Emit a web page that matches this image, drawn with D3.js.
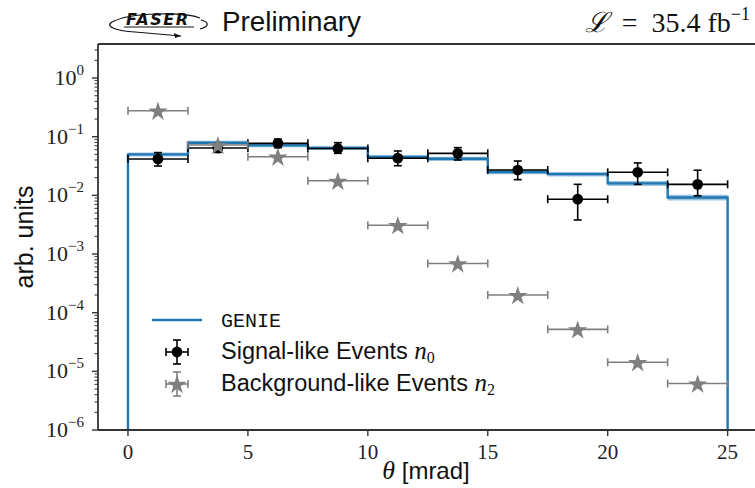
<!DOCTYPE html>
<html><head><meta charset="utf-8">
<script src="https://cdn.jsdelivr.net/npm/d3@7"></script>
<style>body{margin:0;background:#fff}svg{display:block}</style>
</head><body>
<svg id="c" width="755" height="488"></svg>
<script>
// ---- data ----
const binEdges = [0, 2.5, 5, 7.5, 10, 12.5, 15, 17.5, 20, 22.5, 25];
const thetaCenters = [1.25, 3.75, 6.25, 8.75, 11.25, 13.75, 16.25, 18.75, 21.25, 23.75];
const thetaHalfWidth = [1.25, 1.25, 1.25, 1.25, 1.25, 1.25, 1.25, 1.25, 1.25, 1.25];
const genie = [0.050, 0.079, 0.071, 0.064, 0.045, 0.042, 0.025, 0.023, 0.016, 0.0092];
const genieBandLo = [0.046, 0.073, 0.066, 0.059, 0.0415, 0.0385, 0.0228, 0.021, 0.0145, 0.0082];
const genieBandHi = [0.054, 0.085, 0.076, 0.069, 0.0485, 0.0455, 0.0272, 0.025, 0.0175, 0.0102];
const signal = [0.0416, 0.064, 0.077, 0.063, 0.043, 0.052, 0.027, 0.0086, 0.0247, 0.0154];
const signalErrLo = [0.010, 0.010, 0.012, 0.011, 0.011, 0.012, 0.0085, 0.0048, 0.0093, 0.0056];
const signalErrHi = [0.012, 0.012, 0.014, 0.016, 0.014, 0.013, 0.0115, 0.0068, 0.011, 0.0114];
const background = [0.277, 0.072, 0.0455, 0.0177, 0.0031, 0.00069, 0.0002, 0.000052, 0.0000143, 0.0000062];
const backgroundErr = [0.004, 0.0015, 0.001, 0.0004, 0.00008, 0.00002, 0.000007, 0.000002, 0.0000006, 0.0000003];
const xTicks = [0, 5, 10, 15, 20, 25];
const yTickExps = [0, -1, -2, -3, -4, -5, -6];
const legendLabels = ["GENIE", "Signal-like Events ", "Background-like Events "];

// ---- layout ----
const svg = d3.select("#c");
const L = 98, T = 44, B = 430, R = 757.6;
const x = d3.scaleLinear().domain([-1.25, 26.25]).range([L, R]);
const y = d3.scaleLog().domain([1e-6, 3.8]).range([B, T]);
const blue = "#1f77b4", grey = "#7f7f7f";
const serif = "'Liberation Serif','DejaVu Serif',serif";
const sans = "'Liberation Sans',Arial,sans-serif";

// GENIE band
const bandArea = d3.area().curve(d3.curveStepAfter)
  .x(d => x(d[0])).y0(d => y(d[1])).y1(d => y(d[2]));
const bandPts = binEdges.map((e, i) => [e, genieBandLo[Math.min(i, 9)], genieBandHi[Math.min(i, 9)]]);
svg.append("path").attr("d", bandArea(bandPts)).attr("fill", blue).attr("opacity", 0.45);
// GENIE step line: vertical at 0, steps, vertical at 25
let pts = [[0, 1e-6]];
for (let i = 0; i < 10; i++) { pts.push([binEdges[i], genie[i]]); pts.push([binEdges[i + 1], genie[i]]); }
pts.push([25, 1e-6]);
svg.append("path").attr("d", d3.line().x(d => x(d[0])).y(d => y(d[1]))(pts))
  .attr("fill", "none").attr("stroke", blue).attr("stroke-width", 2.4);

// error bar helper
function errbar(g, cx, cy, x0, x1, y0, y1, col, cap) {
  g.append("line").attr("x1", x0).attr("x2", x1).attr("y1", cy).attr("y2", cy).attr("stroke", col).attr("stroke-width", 1.6);
  g.append("line").attr("x1", cx).attr("x2", cx).attr("y1", y0).attr("y2", y1).attr("stroke", col).attr("stroke-width", 1.6);
  [x0, x1].forEach(xx => g.append("line").attr("x1", xx).attr("x2", xx).attr("y1", cy - cap).attr("y2", cy + cap).attr("stroke", col).attr("stroke-width", 1.6));
  [y0, y1].forEach(yy => g.append("line").attr("x1", cx - cap).attr("x2", cx + cap).attr("y1", yy).attr("y2", yy).attr("stroke", col).attr("stroke-width", 1.6));
}

// Signal
const gs = svg.append("g");
thetaCenters.forEach((c, i) => {
  errbar(gs, x(c), y(signal[i]), x(c - thetaHalfWidth[i]), x(c + thetaHalfWidth[i]),
    y(signal[i] + signalErrHi[i]), y(signal[i] - signalErrLo[i]), "#000", 4);
  gs.append("circle").attr("cx", x(c)).attr("cy", y(signal[i])).attr("r", 5.4).attr("fill", "#000");
});
// Background
const gb = svg.append("g");
const star = d3.symbol().type(d3.symbolStar).size(115);
thetaCenters.forEach((c, i) => {
  errbar(gb, x(c), y(background[i]), x(c - thetaHalfWidth[i]), x(c + thetaHalfWidth[i]),
    y(background[i] + backgroundErr[i]), y(background[i] - backgroundErr[i]), grey, 4);
  gb.append("path").attr("d", star()).attr("transform", `translate(${x(c)},${y(background[i]) + 1})`).attr("fill", grey);
});

// axes spines
svg.append("line").attr("x1", L).attr("x2", 755).attr("y1", T).attr("y2", T).attr("stroke", "#333").attr("stroke-width", 1.8);
svg.append("line").attr("x1", L).attr("x2", 755).attr("y1", B).attr("y2", B).attr("stroke", "#333").attr("stroke-width", 1.8);
svg.append("line").attr("x1", L).attr("x2", L).attr("y1", T).attr("y2", B).attr("stroke", "#333").attr("stroke-width", 1.8);

// x ticks
xTicks.forEach(t => {
  svg.append("line").attr("x1", x(t)).attr("x2", x(t)).attr("y1", B).attr("y2", B + 6).attr("stroke", "#333").attr("stroke-width", 1.4);
  svg.append("text").attr("x", x(t)).attr("y", B + 29).attr("text-anchor", "middle")
    .attr("font-family", serif).attr("font-size", 21).attr("fill", "#222").text(t);
});
// y ticks
yTickExps.forEach(e => {
  const yy = y(Math.pow(10, e));
  svg.append("line").attr("x1", L - 6).attr("x2", L).attr("y1", yy).attr("y2", yy).attr("stroke", "#333").attr("stroke-width", 1.4);
  const t = svg.append("text").attr("x", 84).attr("y", yy + 7).attr("text-anchor", "end")
    .attr("font-family", serif).attr("font-size", 22).attr("fill", "#222");
  t.append("tspan").text("10");
  t.append("tspan").attr("dy", -10).attr("font-size", 15).text(e === 0 ? "0" : "\u2212" + (-e));
});
// minor ticks
for (let e = -6; e <= 0; e++) {
  for (let k = 2; k <= 9; k++) {
    const v = k * Math.pow(10, e);
    if (v > 3.8) continue;
    svg.append("line").attr("x1", L - 3.5).attr("x2", L).attr("y1", y(v)).attr("y2", y(v)).attr("stroke", "#333").attr("stroke-width", 1);
  }
}

// axis labels
const xl = svg.append("text").attr("x", 426).attr("y", 479).attr("text-anchor", "middle").attr("font-size", 24).attr("fill", "#111");
xl.append("tspan").attr("font-family", serif).attr("font-style", "italic").attr("font-size", 26).text("\u03b8");
xl.append("tspan").attr("font-family", sans).text(" [mrad]");
svg.append("text").attr("transform", "translate(33,237) rotate(-90)").attr("text-anchor", "middle")
  .attr("font-family", sans).attr("font-size", 25).attr("fill", "#111").text("arb. units");

// header
svg.append("text").attr("x", 222).attr("y", 31).attr("font-family", sans).attr("font-size", 27.8).attr("fill", "#111").text("Preliminary");
const lumi = svg.append("text").attr("x", 750).attr("y", 32).attr("text-anchor", "end").attr("font-family", serif).attr("font-size", 28).attr("fill", "#111");
lumi.append("tspan").attr("font-style", "italic").text("\u2112");
lumi.append("tspan").text("\u00a0\u00a0=\u00a0 35.4 fb");
lumi.append("tspan").attr("dy", -12).attr("font-size", 18).text("\u22121");

// FASER logo
const logo = svg.append("g");
logo.append("path").attr("d", "M200,18 C185,12 130,12 112,22 C104,27 118,31 135,32 L181,36")
  .attr("fill", "none").attr("stroke", "#111").attr("stroke-width", 1.2);
logo.append("path").attr("d", "M181,36 L174,33 L175,38 Z").attr("fill", "#111");
logo.append("path").attr("d", "M201,20 C209,22 210,26 200,29").attr("fill", "none").attr("stroke", "#111").attr("stroke-width", 1.2);
logo.append("text").attr("x", 126).attr("y", 25).attr("font-family", "'DejaVu Sans',sans-serif").attr("font-weight", "bold")
  .attr("font-style", "italic").attr("font-size", 16).attr("letter-spacing", 1.5).attr("fill", "#111").text("FASER");
logo.append("line").attr("x1", 124).attr("x2", 194).attr("y1", 27).attr("y2", 27).attr("stroke", "#111").attr("stroke-width", 1);

// legend
const lg = svg.append("g");
lg.append("line").attr("x1", 152).attr("x2", 202).attr("y1", 320).attr("y2", 320).attr("stroke", blue).attr("stroke-width", 2.4);
lg.append("text").attr("x", 221).attr("y", 327).attr("font-family", "'Liberation Mono','DejaVu Sans Mono',monospace")
  .attr("font-size", 20).attr("fill", "#111").text(legendLabels[0]);
errbar(lg, 177, 352, 166, 188, 340, 364, "#000", 4);
lg.append("circle").attr("cx", 177).attr("cy", 352).attr("r", 5.4).attr("fill", "#000");
const t1 = lg.append("text").attr("x", 221).attr("y", 359).attr("font-family", sans).attr("font-size", 23.5).attr("fill", "#111");
t1.append("tspan").text(legendLabels[1]);
t1.append("tspan").attr("font-family", serif).attr("font-style", "italic").attr("font-size", 25).text("n");
t1.append("tspan").attr("font-family", serif).attr("font-size", 16).attr("dy", 4).text("0");
errbar(lg, 177, 384, 166, 188, 372, 396, grey, 4);
lg.append("path").attr("d", star()).attr("transform", "translate(177,385)").attr("fill", grey);
const t2 = lg.append("text").attr("x", 221).attr("y", 391).attr("font-family", sans).attr("font-size", 23.5).attr("fill", "#111");
t2.append("tspan").text(legendLabels[2]);
t2.append("tspan").attr("font-family", serif).attr("font-style", "italic").attr("font-size", 25).text("n");
t2.append("tspan").attr("font-family", serif).attr("font-size", 16).attr("dy", 4).text("2");
</script>
</body></html>
